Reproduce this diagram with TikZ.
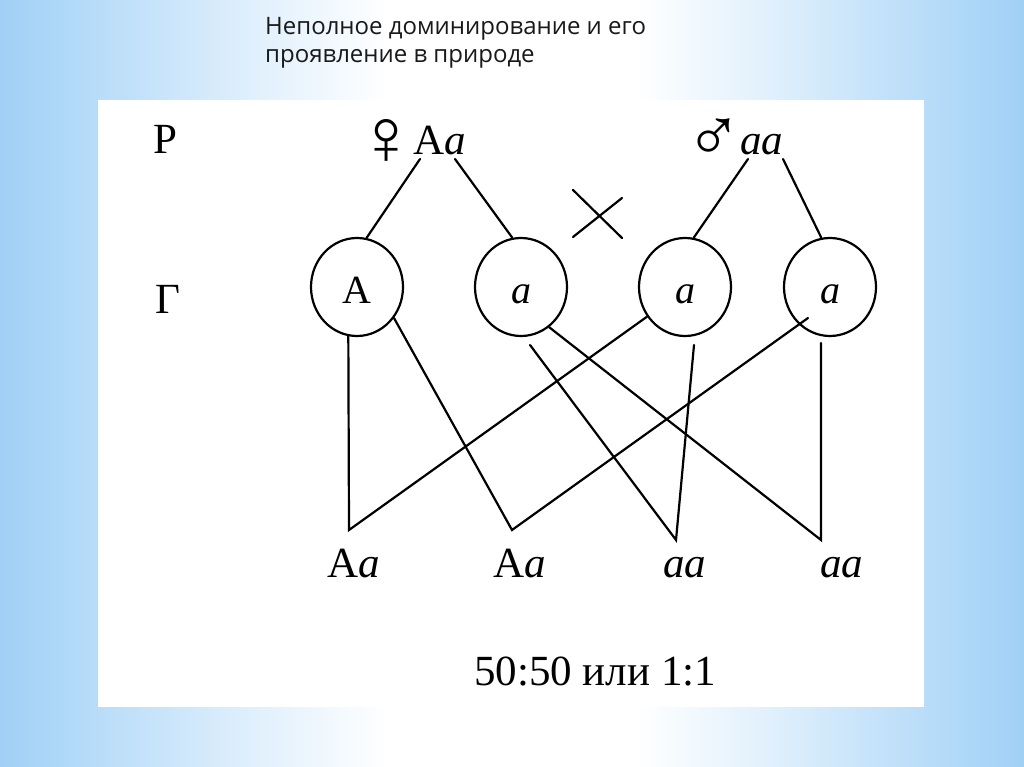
\documentclass[tikz,border=0pt]{standalone}
\usepackage{fontspec}
\setmainfont{Liberation Serif}
\newfontfamily\titlefont{Open Sans}
\usetikzlibrary{shapes.geometric}
\definecolor{bgblue}{RGB}{160,208,246}
\definecolor{bgpale}{RGB}{222,239,252}
\definecolor{titlegray}{RGB}{25,25,25}
\pgfdeclarehorizontalshading{bgsh}{100bp}{color(0bp)=(bgblue); color(25bp)=(bgblue); color(37bp)=(bgpale); color(44bp)=(white); color(56bp)=(white); color(63bp)=(bgpale); color(75bp)=(bgblue); color(100bp)=(bgblue)}
\begin{document}
\begin{tikzpicture}[x=1pt,y=-1pt,
  link/.style={line width=2.2pt, black, line cap=round, line join=miter},
  gamete/.style={draw, line width=2.2pt, ellipse, minimum width=92pt, minimum height=98pt, inner sep=0pt},
  letter/.style={font=\fontsize{40}{46}\selectfont, inner sep=0pt, anchor=base},
  gen/.style={font=\fontsize{43}{50}\selectfont, inner sep=0pt, anchor=base west},
  sym/.style={font=\fontsize{80}{90}\selectfont, inner sep=0pt},
  ttl/.style={font=\titlefont\fontsize{24}{28}\selectfont, text=titlegray, inner sep=0pt, anchor=base west}]
\useasboundingbox (0,0) rectangle (1024,767);
\shade[shading=bgsh] (0,0) rectangle (1024,767);
\fill[white] (98,100) rectangle (924,707);

% title
\node[ttl] (t1) at (265,35) {Неполное доминирование и его};
\node[ttl] (t2) at (265,63) {проявление в природе};

% row labels
\node[gen] (P) at (153,154) {P};
\node[gen] (G) at (155,313) {Г};

% parents
\node[sym] (fem) at (386,142) {♀};
\node[gen] (fAa) at (413,155) {A\textit{a}};
\node[sym, font=\fontsize{76}{86}\selectfont] (mal) at (714,140) {♂};
\node[gen] (maa) at (740,155) {\textit{aa}};

% cross sign
\coordinate (x1) at (573,190);
\coordinate (x2) at (622,238);
\coordinate (x3) at (573,237);
\coordinate (x4) at (622,198);
\draw[link] (x1) -- (x2);
\draw[link] (x3) -- (x4);

% gametes
\node[gamete] (gA) at (357,287) {};
\node[gamete] (ga1) at (521,287) {};
\node[gamete] (ga2) at (685,287) {};
\node[gamete] (ga3) at (830,287) {};
\node[letter] (lA) at ([yshift=-16pt]gA.center) {A};
\node[letter] (la1) at ([yshift=-16pt]ga1.center) {\textit{a}};
\node[letter] (la2) at ([yshift=-16pt]ga2.center) {\textit{a}};
\node[letter] (la3) at ([yshift=-16pt]ga3.center) {\textit{a}};

% parent -> gamete
\coordinate (fL) at (420,159);
\coordinate (fR) at (455,159);
\coordinate (mL) at (748,159);
\coordinate (mR) at (783,159);
\draw[link] (fL) -- (gA.79);
\draw[link] (fR) -- (ga1.100);
\draw[link] (mL) -- (ga2.80);
\draw[link] (mR) -- (ga3.100);

% offspring junctions
\coordinate (o1) at (349,530);
\coordinate (o2) at (512,530);
\coordinate (o3) at (676,540);
\coordinate (o4) at (821,540);
\coordinate (s1) at (530,345);
\coordinate (s2) at (694,345);
\coordinate (s3) at (821,343);
\coordinate (e4) at (808,318);
\draw[link] (gA.-100) -- (o1) -- (ga2.-142);
\draw[link] (gA.-40) -- (o2) -- (e4);
\draw[link] (s1) -- (o3) -- (s2);
\draw[link] (ga1.-55) -- (o4) -- (s3);

% offspring
\node[gen] (c1) at (327,577) {A\textit{a}};
\node[gen] (c2) at (493,577) {A\textit{a}};
\node[gen] (c3) at (663,577) {\textit{aa}};
\node[gen] (c4) at (820,577) {\textit{aa}};

\node[gen] (ratio) at (474,685) {50:50 или 1:1};
\end{tikzpicture}
\end{document}
